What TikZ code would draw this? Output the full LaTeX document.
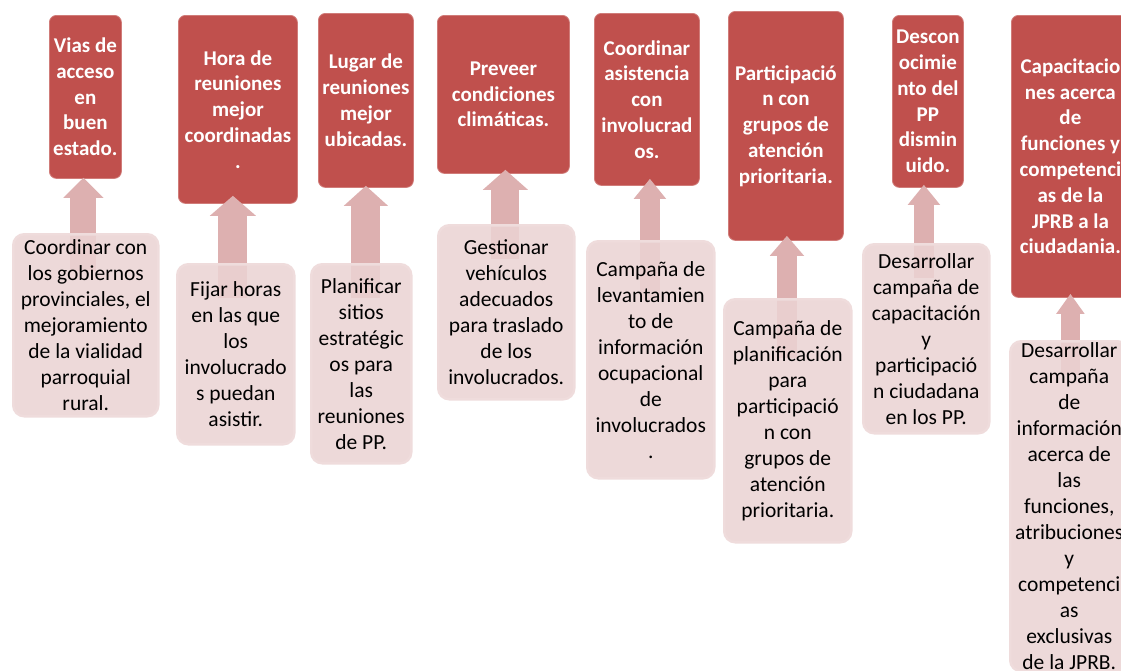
\documentclass[tikz,border=0pt]{standalone}
\usepackage{fontspec}
\setmainfont{Carlito}
\usetikzlibrary{arrows.meta,calc}
\definecolor{accent}{HTML}{C0504D}
\definecolor{arrowc}{HTML}{DDB0B0}
\definecolor{lowfill}{HTML}{EBD3D3}
\definecolor{lowline}{HTML}{EFDCDC}
\pgfdeclarelayer{bgl}
\pgfdeclarelayer{tops}
\pgfdeclarelayer{arrs}
\pgfsetlayers{bgl,tops,arrs,main}
\tikzset{
  topbox/.style 2 args={draw=accent!75!white, line width=0.8pt, fill=accent,
    rounded corners=7pt, anchor=north west, minimum width=#1, minimum height=#2,
    inner sep=1pt, align=center, text=white,
    font=\fontsize{21}{25.8}\selectfont\bfseries},
  lowbox/.style 2 args={draw=lowline, line width=2.5pt, fill=lowfill, fill opacity=0.86,
    text opacity=1, rounded corners=11pt, anchor=north west, minimum width=#1,
    minimum height=#2, inner sep=1pt, align=center, text=black,
    font=\fontsize{21.5}{26}\selectfont},
  uparrow/.style 2 args={draw=arrowc, line width=#1,
    -{Triangle[width=#2,length=20pt]}}
}
\begin{document}
\begin{tikzpicture}[x=1pt,y=-1pt]
\begin{pgfonlayer}{bgl}
\fill[white] (0,0) rectangle (1121,670);
\end{pgfonlayer}
\useasboundingbox (0,0) rectangle (1121,670);
\begin{pgfonlayer}{tops}
\node[topbox={72pt}{163pt}] (t1) at (49,15) {Vias de\\acceso\\en\\buen\\estado.};
\node[topbox={119pt}{188pt}] (t2) at (178,15) {Hora de\\reuniones\\mejor\\coordinadas\\.};
\node[topbox={95pt}{174pt}] (t3) at (318,13) {Lugar de\\reuniones\\mejor\\ubicadas.};
\node[topbox={132pt}{158pt}] (t4) at (437,15) {Preveer\\condiciones\\climáticas.};
\node[topbox={105pt}{172pt}] (t5) at (594,13) {Coordinar\\asistencia\\con\\involucrad\\os.};
\node[topbox={115pt}{229pt}] (t6) at (728,11) {Participació\\n con\\grupos de\\atención\\prioritaria.};
\node[topbox={71pt}{172pt}] (t7) at (892,15) {Descon\\ocimie\\nto del\\PP\\dismin\\uido.};
\node[topbox={118pt}{282pt}] (t8) at (1011,15) {Capacitacio\\nes acerca\\de\\funciones y\\competenci\\as de la\\JPRB a la\\ciudadania.};
\end{pgfonlayer}
\node[lowbox={145pt}{182pt}] (b1) at (12,233) {Coordinar con\\los gobiernos\\provinciales, el\\mejoramiento\\de la vialidad\\parroquial\\rural.};
\node[lowbox={117pt}{180pt}] (b2) at (176,263) {Fijar horas\\en las que\\los\\involucrado\\s puedan\\asistir.};
\node[lowbox={100pt}{199pt}] (b3) at (310,263) {Planificar\\sitios\\estratégic\\os para\\las\\reuniones\\de PP.};
\node[lowbox={136pt}{174pt}] (b4) at (437,224) {Gestionar\\vehículos\\adecuados\\para traslado\\de los\\involucrados.};
\node[lowbox={127pt}{237pt}] (b5) at (586,240) {Campaña de\\levantamien\\to de\\información\\ocupacional\\de\\involucrados\\.};
\node[lowbox={127pt}{243pt}] (b6) at (723,298) {Campaña de\\planificación\\para\\participació\\n con\\grupos de\\atención\\prioritaria.};
\node[lowbox={126pt}{189pt}] (b7) at (862,243) {Desarrollar\\campaña de\\capacitación\\y\\participació\\n ciudadana\\en los PP.};
\node[lowbox={118pt}{330pt}] (b8) at (1009,340) {Desarrollar\\campaña\\de\\información\\acerca de\\las\\funciones,\\atribuciones\\y\\competenci\\as\\exclusivas\\de la JPRB.};
\begin{pgfonlayer}{arrs}
\draw[uparrow={26pt}{39pt}] ($(b1.north -| t1.south)+(-2,38)$) -- ($(t1.south)+(-2,-1)$);
\draw[uparrow={29pt}{45pt}] ($(b2.north -| t2.south)+(-5,35)$) -- ($(t2.south)+(-5,-8)$);
\draw[uparrow={29pt}{43pt}] ($(b3.north -| t3.south)+(0,35)$) -- ($(t3.south)+(0,-2)$);
\draw[uparrow={28pt}{44pt}] ($(b4.north -| t4.south)+(2,35)$) -- ($(t4.south)+(2,-4)$);
\draw[uparrow={20pt}{31pt}] ($(b5.north -| t5.south)+(3,60)$) -- ($(t5.south)+(3,-7)$);
\draw[uparrow={20pt}{33pt}] ($(b6.north -| t6.south)+(1,60)$) -- ($(t6.south)+(1,-5)$);
\draw[uparrow={20pt}{31pt}] ($(b7.north -| t7.south)+(-4,35)$) -- ($(t7.south)+(-4,-3)$);
\draw[uparrow={19pt}{27pt}] ($(b8.north -| t8.south)+(0,35)$) -- ($(t8.south)+(0,-4)$);
\end{pgfonlayer}
\end{tikzpicture}
\end{document}
